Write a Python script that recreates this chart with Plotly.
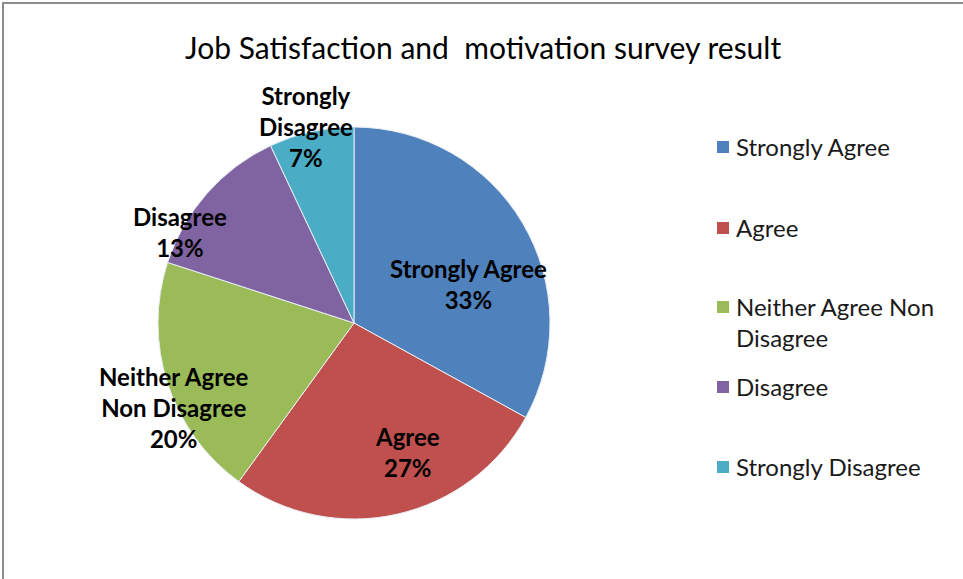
import plotly.graph_objects as go

# Survey responses (share of respondents, %)
categories = ["Strongly Agree", "Agree", "Neither Agree Non Disagree", "Disagree", "Strongly Disagree"]
values = [33, 27, 20, 13, 7]
slice_labels = ["Strongly Agree", "Agree", "Neither Agree<br>Non Disagree", "Disagree", "Strongly<br>Disagree"]
legend_labels = ["Strongly Agree", "Agree", "Neither Agree Non<br>Disagree", "Disagree", "Strongly Disagree"]
colors = ["#4F81BD", "#C0504D", "#9BBB59", "#8064A2", "#4BACC6"]

W, H = 963, 579
FONT = "Lato"

def px(x):
    return x / W

def py(y):
    return 1 - y / H

cx, cy, r = 354, 323, 196

fig = go.Figure(go.Pie(
    labels=categories,
    values=values,
    sort=False,
    direction="clockwise",
    rotation=0,
    marker=dict(colors=colors, line=dict(color="#E8EEF4", width=1)),
    textinfo="none",
    hoverinfo="label+percent",
    showlegend=False,
    domain=dict(x=[px(cx - r), px(cx + r)], y=[py(cy + r), py(cy - r)]),
))

total = sum(values)
# data label anchor points (pixel centres of each label block)
label_pos = [(468, 284), (407, 452), (174, 407), (180, 232), (306, 126)]

annotations = []
for lab, v, (lx, ly) in zip(slice_labels, values, label_pos):
    pct = round(v / total * 100)
    annotations.append(dict(
        x=px(lx), y=py(ly), xref="paper", yref="paper",
        text=f"<b>{lab}<br>{pct}%</b>", showarrow=False,
        xanchor="center", yanchor="middle", align="center",
        font=dict(family=FONT, size=24, color="#000000"),
    ))

# title
annotations.append(dict(
    x=px(483), y=py(47), xref="paper", yref="paper",
    text="Job Satisfaction and  motivation survey result", showarrow=False,
    xanchor="center", yanchor="middle",
    font=dict(family=FONT, size=30, color="#000000"),
))

# legend built from swatches and text
shapes = []
legend_y = [147, 228, 307, 387, 467]
for lab, col, ly in zip(legend_labels, colors, legend_y):
    shapes.append(dict(
        type="rect", xref="paper", yref="paper",
        x0=px(717), x1=px(729), y0=py(ly + 6), y1=py(ly - 6),
        fillcolor=col, line=dict(width=0),
    ))
    annotations.append(dict(
        x=px(734), y=py(ly - 17), xref="paper", yref="paper",
        text=lab, showarrow=False, xanchor="left", yanchor="top", align="left",
        font=dict(family=FONT, size=24, color="#1A1A1A"),
    ))

# chart frame
shapes.append(dict(
    type="rect", xref="paper", yref="paper",
    x0=px(3), x1=px(975), y0=py(600), y1=py(3),
    line=dict(color="#8C8C8C", width=2), fillcolor="rgba(0,0,0,0)",
))

fig.update_layout(
    width=W, height=H,
    margin=dict(l=0, r=0, t=0, b=0),
    paper_bgcolor="white", plot_bgcolor="white",
    annotations=annotations, shapes=shapes,
)

fig.write_html("out.html")
